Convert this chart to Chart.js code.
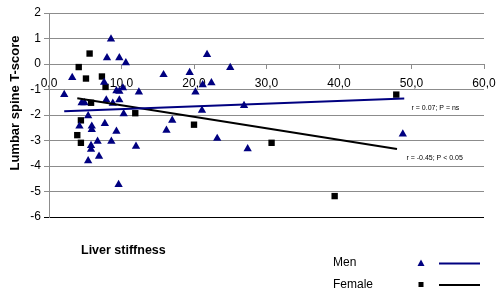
<!DOCTYPE html>
<html>
<head>
<meta charset="utf-8">
<script src="https://cdn.jsdelivr.net/npm/chart.js@4.4.1/dist/chart.umd.min.js"></script>
<style>
    body { margin: 0; background: #fff; }
    #wrap { width: 500px; height: 294px; }
</style>
</head>
<body>
<div id="wrap"><canvas id="chart" width="500" height="294"></canvas></div>
<script>
// Lumbar spine T-score vs liver stiffness, by sex

// Men (triangles)
const menX = [2.1, 3.2, 4.5, 4.9, 5.4, 4.2, 5.9, 5.9, 5.8, 5.8, 5.4, 6.9, 6.7, 7.7, 7.6,
    8.0, 8.55, 9.7, 10.6, 7.9, 8.8, 9.7, 9.3, 9.7, 10.2, 10.3, 9.3, 8.6, 9.6, 12.4,
    12.0, 15.8, 16.2, 17.0, 19.4, 20.2, 21.2, 21.8, 22.4, 21.1, 23.2, 25.0, 26.9, 27.4, 48.8];
const menY = [-1.2, -0.53, -1.52, -1.52, -2.03, -2.44, -2.44, -2.57, -3.2, -3.35, -3.8, -3.62, -3.03, -2.34, -0.72,
    0.24, 0.98, 0.24, 0.05, -1.41, -1.54, -1.41, -1.05, -1.07, -0.94, -1.95, -2.64, -3.03, -4.73, -1.1,
    -3.23, -0.42, -2.6, -2.21, -0.34, -1.1, -0.82, 0.37, -0.74, -1.82, -2.92, -0.14, -1.63, -3.33, -2.75];

// Female (squares)
const femaleX = [4.1, 5.6, 5.1, 7.3, 7.8, 5.8, 4.4, 3.9, 4.4, 11.9, 20.0, 30.7, 39.4, 47.9];
const femaleY = [-0.12, 0.41, -0.57, -0.49, -0.9, -1.52, -2.21, -2.79, -3.09, -1.93, -2.38, -3.09, -5.18, -1.2];

// Regression lines (end points)
const menLineX = [2.1, 49.0];
const menLineY = [-1.85, -1.35];
const femaleLineX = [3.9, 48.0];
const femaleLineY = [-1.34, -3.33];

// Axis ticks
const xTicks = [0, 10, 20, 30, 40, 50, 60];
const xTickLabels = ['0,0', '10,0', '20,0', '30,0', '40,0', '50,0', '60,0'];

// Annotation text and where it sits (data units)
const menStat = { text: 'r = 0.07; P = ns', x: 50.0, y: -1.74 };
const femaleStat = { text: 'r = -0.45; P < 0.05', x: 49.3, y: -3.69 };

const NAVY = '#000080';
const GRID = '#8c8c8c';
const FONT = '"Liberation Sans", Arial, sans-serif';

const toPoints = (xs, ys) => xs.map((x, i) => ({ x: x, y: ys[i] }));

// Extra text + custom legend drawn on top of the chart
const decorPlugin = {
    id: 'decor',
    afterDraw(chart) {
        const ctx = chart.ctx;
        const xs = chart.scales.x;
        const ys = chart.scales.y;
        ctx.save();
        ctx.fillStyle = '#000';

        // y axis title
        ctx.save();
        ctx.translate(15, 103);
        ctx.rotate(-Math.PI / 2);
        ctx.font = 'bold 13px ' + FONT;
        ctx.textAlign = 'center';
        ctx.textBaseline = 'middle';
        ctx.fillText('Lumbar spine T-score', 0, 0);
        ctx.restore();

        // x axis title
        ctx.font = 'bold 12.5px ' + FONT;
        ctx.textAlign = 'left';
        ctx.textBaseline = 'middle';
        ctx.fillText('Liver stiffness', 81, 251);

        // r / P annotations
        ctx.font = '7px ' + FONT;
        [menStat, femaleStat].forEach(s => {
            ctx.fillText(s.text, xs.getPixelForValue(s.x), ys.getPixelForValue(s.y));
        });

        // legend
        const items = [
            { label: 'Men', color: NAVY, shape: 'triangle', y: 263 },
            { label: 'Female', color: '#000', shape: 'rect', y: 284.5 }
        ];
        items.forEach(it => {
            ctx.fillStyle = '#000';
            ctx.font = '12px ' + FONT;
            ctx.fillText(it.label, 333, it.y);
            ctx.fillStyle = it.color;
            ctx.beginPath();
            if (it.shape === 'triangle') {
                ctx.moveTo(421, it.y - 3.5);
                ctx.lineTo(424.5, it.y + 3);
                ctx.lineTo(417.5, it.y + 3);
                ctx.closePath();
                ctx.fill();
            } else {
                ctx.fillRect(418.5, it.y - 2.5, 5, 5);
            }
            ctx.strokeStyle = it.color;
            ctx.lineWidth = 2;
            ctx.beginPath();
            ctx.moveTo(439, it.y + 0.5);
            ctx.lineTo(480, it.y + 0.5);
            ctx.stroke();
        });
        ctx.restore();
    }
};

new Chart(document.getElementById('chart'), {
    type: 'scatter',
    data: {
        datasets: [
            {
                label: 'Men fit',
                data: toPoints(menLineX, menLineY),
                showLine: true,
                borderColor: NAVY,
                borderWidth: 2,
                pointRadius: 0
            },
            {
                label: 'Female fit',
                data: toPoints(femaleLineX, femaleLineY),
                showLine: true,
                borderColor: '#000',
                borderWidth: 2,
                pointRadius: 0
            },
            {
                label: 'Men',
                data: toPoints(menX, menY),
                pointStyle: 'triangle',
                pointRadius: 4.8,
                backgroundColor: NAVY,
                borderColor: NAVY,
                borderWidth: 0
            },
            {
                label: 'Female',
                data: toPoints(femaleX, femaleY),
                pointStyle: 'rect',
                pointRadius: 4.5,
                backgroundColor: '#000',
                borderColor: '#000',
                borderWidth: 0
            }
        ]
    },
    options: {
        responsive: false,
        animation: false,
        layout: { padding: { top: 13, right: 16, bottom: 77, left: 0 } },
        plugins: {
            legend: { display: false },
            tooltip: { enabled: false }
        },
        scales: {
            x: {
                type: 'linear',
                position: { y: 0 },
                min: 0,
                max: 60,
                afterBuildTicks: scale => {
                    scale.ticks = xTicks.map(v => ({ value: v }));
                },
                afterFit: scale => {
                    // labels may spill past the plot edge, like the original
                    scale.paddingLeft = 0;
                    scale.paddingRight = 0;
                },
                ticks: {
                    padding: 8,
                    color: '#000',
                    font: { family: FONT, size: 12 },
                    maxRotation: 0,
                    callback: (value) => xTickLabels[xTicks.indexOf(value)]
                },
                grid: {
                    drawOnChartArea: false,
                    tickLength: 4,
                    color: GRID
                },
                border: { color: GRID }
            },
            y: {
                min: -6,
                max: 2,
                ticks: {
                    stepSize: 1,
                    padding: 3,
                    color: '#000',
                    font: { family: FONT, size: 12 }
                },
                grid: {
                    tickLength: 5,
                    color: ctx => (ctx.tick && ctx.tick.value === -6) ? '#000' : GRID
                },
                border: { color: GRID },
                afterFit: scale => { scale.width = 49; }
            }
        }
    },
    plugins: [decorPlugin]
});
</script>
</body>
</html>
